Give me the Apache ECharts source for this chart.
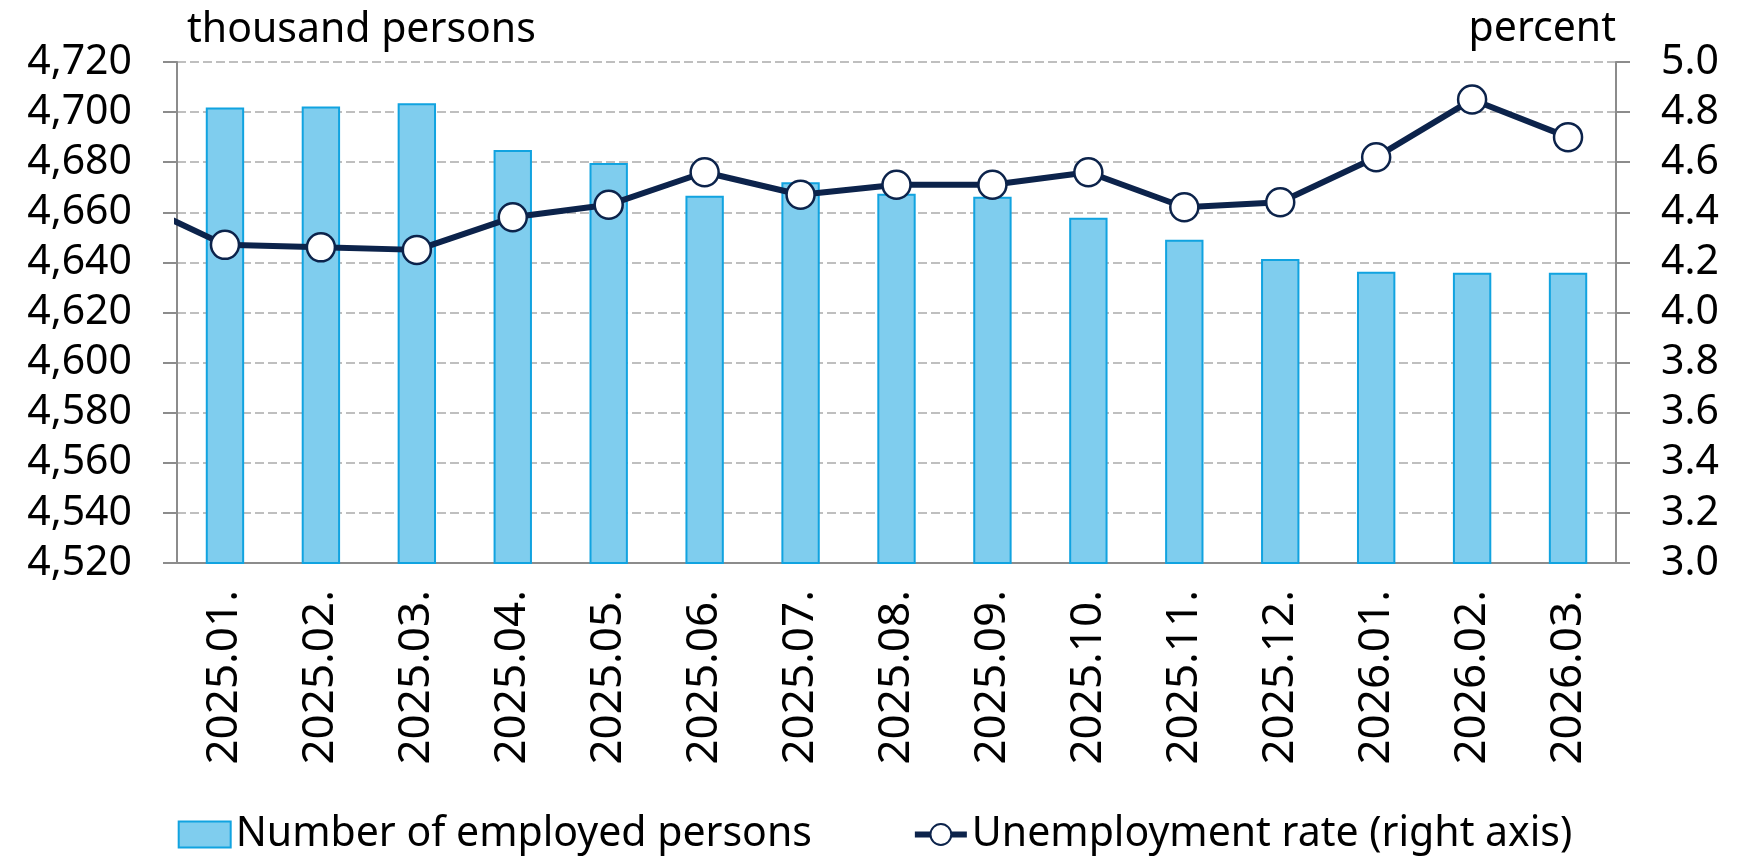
<!DOCTYPE html>
<html>
<head>
<meta charset="utf-8">
<title>Employed persons and unemployment rate</title>
<script src="https://cdn.jsdelivr.net/npm/echarts@6/dist/echarts.min.js"></script>
<style>
  html, body { margin: 0; padding: 0; background: #fff; }
  #chart { width: 1750px; height: 857px; }
</style>
</head>
<body>
<div id="chart"></div>
<script>
// categories (months)
var months = ['2025.01.', '2025.02.', '2025.03.', '2025.04.', '2025.05.', '2025.06.', '2025.07.',
  '2025.08.', '2025.09.', '2025.10.', '2025.11.', '2025.12.', '2026.01.', '2026.02.', '2026.03.'];
// number of employed persons, thousand persons
var employed = [4701.8, 4702.2, 4703.5, 4684.9, 4679.7, 4666.6, 4672.0,
  4667.4, 4666.2, 4657.8, 4649.0, 4641.4, 4636.3, 4635.9, 4635.9];
// unemployment rate, percent
var unemploymentRate = [4.27, 4.26, 4.25, 4.38, 4.43, 4.56, 4.47,
  4.51, 4.51, 4.56, 4.42, 4.44, 4.62, 4.85, 4.70];
// month before the first one (only the line stub at the left edge shows)
var priorRate = 4.45;
// axis ranges: min, max, step
var leftAxisRange = [4520, 4720, 20];
var rightAxisRange = [3.0, 5.0, 0.2];

var navy = '#0c234b';
var font = 'Noto Sans';

// line points on a hidden value x axis, so the segment from the previous month is clipped
var ratePoints = [{ value: [-1, priorRate], symbol: 'none' }];
for (var i = 0; i < unemploymentRate.length; i++) {
  ratePoints.push({ value: [i, unemploymentRate[i]] });
}

var myChart = echarts.init(document.getElementById('chart'));
var option = {
  animation: false,
  textStyle: { fontFamily: font, color: '#000' },
  grid: { left: 177, right: 134, top: 62, bottom: 294 },
  legend: {
    left: 'center',
    top: 814,
    padding: 0,
    itemWidth: 52,
    itemHeight: 26,
    itemGap: 100,
    lineStyle: { width: 6 },
    textStyle: { fontFamily: font, fontSize: 41, color: '#000' },
    data: [
      { name: 'Number of employed persons', icon: 'rect' },
      { name: 'Unemployment rate (right axis)' }
    ]
  },
  xAxis: [
    {
      type: 'category',
      data: months,
      axisLine: { lineStyle: { color: '#8c8c8c', width: 2 } },
      axisTick: { show: false },
      axisLabel: { rotate: 90, margin: 27, fontSize: 44, color: '#000', fontFamily: font, interval: 0 }
    },
    {
      type: 'value',
      min: -0.5,
      max: months.length - 0.5,
      show: false
    }
  ],
  yAxis: [
    {
      type: 'value',
      min: leftAxisRange[0],
      max: leftAxisRange[1],
      interval: leftAxisRange[2],
      name: 'thousand persons',
      nameLocation: 'end',
      nameGap: 11,
      nameTextStyle: { fontSize: 41, color: '#000', fontFamily: font, align: 'left', verticalAlign: 'bottom', padding: [0, 0, 0, 10] },
      axisLine: { show: true, onZero: false, lineStyle: { color: '#8c8c8c', width: 2 } },
      axisTick: { show: true, length: 14, lineStyle: { color: '#8c8c8c', width: 2 } },
      axisLabel: {
        margin: 45, fontSize: 41, color: '#000', fontFamily: font,
        formatter: function (v) { return v.toLocaleString('en-US'); }
      },
      splitLine: { show: true, lineStyle: { color: '#bfbfbf', width: 2, type: [9, 4] } }
    },
    {
      type: 'value',
      min: rightAxisRange[0],
      max: rightAxisRange[1],
      interval: rightAxisRange[2],
      name: 'percent',
      nameLocation: 'end',
      nameGap: 12,
      nameTextStyle: { fontSize: 41, color: '#000', fontFamily: font, align: 'right', verticalAlign: 'bottom' },
      axisLine: { show: true, onZero: false, lineStyle: { color: '#8c8c8c', width: 2 } },
      axisTick: { show: true, length: 14, lineStyle: { color: '#8c8c8c', width: 2 } },
      axisLabel: {
        margin: 45, fontSize: 41, color: '#000', fontFamily: font,
        formatter: function (v) { return v.toFixed(1); }
      },
      splitLine: { show: false }
    }
  ],
  series: [
    {
      name: 'Number of employed persons',
      type: 'bar',
      xAxisIndex: 0,
      yAxisIndex: 0,
      barWidth: '40%',
      data: employed,
      itemStyle: { color: '#7fcdee', borderColor: '#11a3e0', borderWidth: 2 }
    },
    {
      name: 'Unemployment rate (right axis)',
      type: 'line',
      xAxisIndex: 1,
      yAxisIndex: 1,
      clip: true,
      data: ratePoints,
      symbol: 'circle',
      symbolSize: 28,
      lineStyle: { color: navy, width: 6 },
      itemStyle: { color: '#fff', borderColor: navy, borderWidth: 2.5 },
      z: 5
    }
  ]
};
myChart.setOption(option);
</script>
</body>
</html>
